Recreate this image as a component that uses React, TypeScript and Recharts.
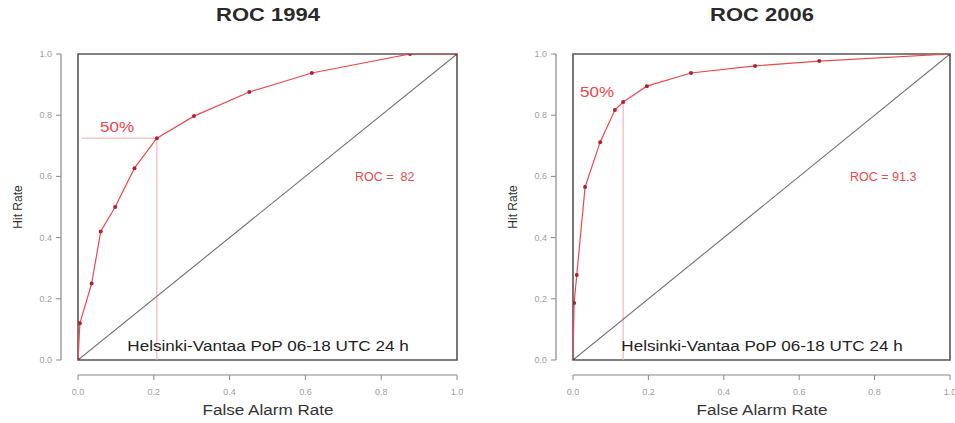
import React from 'react'
import { LineChart, Line, XAxis, YAxis, ReferenceArea, ReferenceLine } from 'recharts'

// --- data ---
const TICKS = [0, 0.2, 0.4, 0.6, 0.8, 1.0]
const DIAGONAL = [
  { x: 0, y: 0 },
  { x: 1, y: 1 },
]

const ROC_1994 = [
  { x: 0, y: 0 },
  { x: 0.005, y: 0.12 },
  { x: 0.036, y: 0.25 },
  { x: 0.06, y: 0.42 },
  { x: 0.098, y: 0.5 },
  { x: 0.149, y: 0.627 },
  { x: 0.208, y: 0.725 },
  { x: 0.306, y: 0.797 },
  { x: 0.452, y: 0.876 },
  { x: 0.617, y: 0.938 },
  { x: 0.876, y: 1.0 },
  { x: 1, y: 1 },
]
const HALF_1994 = { x: 0.208, y: 0.725 }

const ROC_2006 = [
  { x: 0, y: 0 },
  { x: 0.003, y: 0.186 },
  { x: 0.01, y: 0.278 },
  { x: 0.032, y: 0.565 },
  { x: 0.072, y: 0.712 },
  { x: 0.111, y: 0.817 },
  { x: 0.133, y: 0.843 },
  { x: 0.196, y: 0.895 },
  { x: 0.313, y: 0.938 },
  { x: 0.483, y: 0.961 },
  { x: 0.653, y: 0.977 },
  { x: 1, y: 1 },
]
const HALF_2006 = { x: 0.133, y: 0.843 }

const FONT = '"Liberation Sans", Arial, sans-serif'
const RED = '#f04848'
const PINK = '#f7a8a8'
const TICK_GREY = '#a0a0a0'
const STRETCH = 1.22 // the source image is stretched sideways

const CH = 423
const TOP = 54
const PLOT_H = 306

interface PanelProps {
  left: number
  width: number
  plotLeft: number
  plotW: number
  title: string
  roc: { x: number; y: number }[]
  half: { x: number; y: number }
  horizontal: boolean
  score: string
  scoreX: number
  halfLabel: { x: number; y: number }
}

function Panel({ left, width, plotLeft, plotW, title, roc, half, horizontal, score, scoreX, halfLabel }: PanelProps) {
  const yAxisW = 50
  const xAxisH = 40
  const margin = {
    top: TOP,
    right: width - plotLeft - plotW,
    left: plotLeft - yAxisW,
    bottom: CH - TOP - PLOT_H - xAxisH,
  }
  const step = plotW * 0.2
  const stepY = PLOT_H * 0.2

  const xTick = (p: any) => {
    const v = p.payload.value
    const y0 = p.y + 15
    return (
      <g>
        {v < 1 && <line x1={p.x} x2={p.x + step} y1={y0} y2={y0} stroke="#888" strokeWidth={1.2} />}
        <line x1={p.x} x2={p.x} y1={y0} y2={y0 + 5} stroke="#888" strokeWidth={1} />
        <text x={p.x} y={y0 + 20} textAnchor="middle" fontSize={9} fill={TICK_GREY} fontFamily={FONT}>
          {v.toFixed(1)}
        </text>
      </g>
    )
  }
  const yTick = (p: any) => {
    const v = p.payload.value
    const x0 = p.x - 17
    return (
      <g>
        {v < 1 && <line x1={x0} x2={x0} y1={p.y} y2={p.y - stepY} stroke="#888" strokeWidth={1.2} />}
        <line x1={x0} x2={x0 - 5} y1={p.y} y2={p.y} stroke="#888" strokeWidth={1} />
        <text x={x0 - 9} y={p.y + 3} textAnchor="end" fontSize={9} fill={TICK_GREY} fontFamily={FONT}>
          {v.toFixed(1)}
        </text>
      </g>
    )
  }

  const cx = plotLeft + plotW / 2
  const txt: React.CSSProperties = { position: 'absolute', fontFamily: FONT, whiteSpace: 'pre', lineHeight: 1 }
  const centred = `translateX(-50%) scaleX(${STRETCH})`

  return (
    <div style={{ position: 'absolute', left, top: 0, width, height: CH }}>
      <LineChart width={width} height={CH} margin={margin}>
        <XAxis
          type="number"
          dataKey="x"
          domain={[0, 1]}
          ticks={TICKS}
          height={xAxisH}
          axisLine={false}
          tickLine={false}
          tickSize={0}
          tickMargin={0}
          tick={xTick}
          allowDataOverflow
        />
        <YAxis
          type="number"
          dataKey="y"
          domain={[0, 1]}
          ticks={TICKS}
          width={yAxisW}
          axisLine={false}
          tickLine={false}
          tickSize={0}
          tickMargin={0}
          tick={yTick}
          allowDataOverflow
        />
        <ReferenceArea x1={0} x2={1} y1={0} y2={1} fill="none" stroke="#555" strokeWidth={1.6} />
        {horizontal && (
          <ReferenceLine segment={[{ x: 0.01, y: half.y }, { x: half.x, y: half.y }]} stroke={PINK} strokeWidth={1} />
        )}
        <ReferenceLine segment={[{ x: half.x, y: 0 }, { x: half.x, y: half.y }]} stroke={PINK} strokeWidth={1} />
        <Line
          data={DIAGONAL}
          dataKey="y"
          stroke="#707070"
          strokeWidth={1.1}
          dot={false}
          isAnimationActive={false}
        />
        <Line
          data={roc}
          dataKey="y"
          stroke={RED}
          strokeWidth={1.2}
          dot={{ r: 2, fill: '#b02030', stroke: 'none' }}
          isAnimationActive={false}
        />
      </LineChart>

      <div style={{ ...txt, left: cx, top: 6, transform: centred, fontSize: 18, fontWeight: 'bold', color: '#2a2a2a' }}>
        {title}
      </div>
      <div
        style={{
          ...txt,
          left: plotLeft - 60,
          top: TOP + PLOT_H / 2,
          transform: 'translate(-50%, -50%) rotate(-90deg)',
          fontSize: 12,
          color: '#333',
        }}
      >
        Hit Rate
      </div>
      <div style={{ ...txt, left: cx, top: 403, transform: centred, fontSize: 14, color: '#333' }}>
        False Alarm Rate
      </div>
      <div style={{ ...txt, left: cx, top: 339, transform: centred, fontSize: 14, color: '#222' }}>
        Helsinki-Vantaa PoP 06-18 UTC 24 h
      </div>
      <div style={{ ...txt, left: scoreX, top: 171, fontSize: 12.5, color: RED }}>{score}</div>
      <div
        style={{
          ...txt,
          left: halfLabel.x,
          top: halfLabel.y,
          fontSize: 14,
          color: RED,
          transform: `scaleX(${STRETCH})`,
          transformOrigin: 'left center',
        }}
      >
        50%
      </div>
    </div>
  )
}

export default function App() {
  return (
    <div style={{ position: 'absolute', left: 0, top: 0, width: 955, height: CH, background: '#fff', overflow: 'hidden' }}>
      <Panel
        left={0}
        width={480}
        plotLeft={78}
        plotW={379}
        title="ROC 1994"
        roc={ROC_1994}
        half={HALF_1994}
        horizontal
        score="ROC =  82"
        scoreX={355}
        halfLabel={{ x: 100, y: 120 }}
      />
      <Panel
        left={480}
        width={475}
        plotLeft={93}
        plotW={377}
        title="ROC 2006"
        roc={ROC_2006}
        half={HALF_2006}
        horizontal={false}
        score="ROC = 91.3"
        scoreX={370}
        halfLabel={{ x: 100, y: 85 }}
      />
    </div>
  )
}
